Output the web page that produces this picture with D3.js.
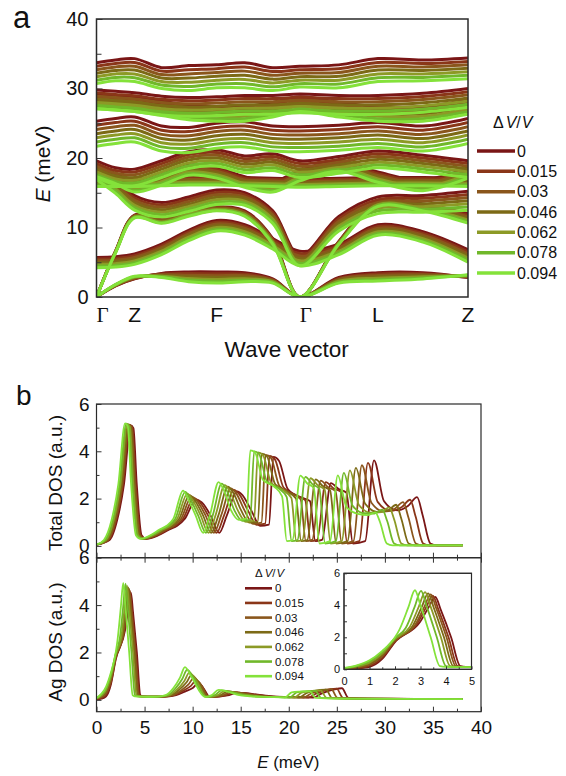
<!DOCTYPE html>
<html>
<head>
<meta charset="utf-8">
<script src="https://cdn.jsdelivr.net/npm/d3@7/dist/d3.min.js"></script>
<style>
  body { margin: 0; background: #fff; }
  text { font-family: "Liberation Sans", Arial, sans-serif; fill: #111; }
</style>
</head>
<body>
<svg id="fig" width="566" height="776"></svg>
<script>
// ---------- strain series ----------
const strainLabels = ["0", "0.015", "0.03", "0.046", "0.062", "0.078", "0.094"];
const strainColors = ["#7a1616", "#8a3618", "#8a561c", "#7c6a16", "#8c9a26", "#70b82a", "#84e23a"];

// ---------- (a) phonon dispersion ----------
// k-path coordinate of each sampled wave vector (arbitrary reciprocal units)
const kPath = [0, 0.19, 0.38, 0.65, 0.92, 1.20, 1.48, 1.76, 2.03, 2.42, 2.81, 3.26, 3.71];
const kSymbols = ["Γ", "Z", "F", "Γ", "L", "Z"];
const kSymbolPos = [0, 0.38, 1.20, 2.03, 2.81, 3.71];
const energyTicks = [0, 10, 20, 30, 40];
const energyMinorTicks = [5, 15, 25, 35];

// each band: one row of energies (meV) per strain value, sampled on kPath
const band1 = [
  [33.7,34.1,34.3,33.0,33.3,33.4,33.7,33.0,33.2,33.4,34.3,34.1,34.4],
  [33.2,33.6,33.75,32.5,32.7,32.85,33.1,32.45,32.7,32.85,33.75,33.6,33.9],
  [32.7,33.1,33.2,32.0,32.1,32.3,32.5,31.9,32.2,32.3,33.2,33.1,33.4],
  [32.2,32.6,32.65,31.5,31.5,31.75,31.9,31.35,31.7,31.75,32.65,32.6,32.9],
  [31.7,32.1,32.1,31.0,30.9,31.2,31.3,30.8,31.2,31.2,32.1,32.1,32.4],
  [31.2,31.6,31.55,30.5,30.3,30.65,30.7,30.25,30.7,30.65,31.55,31.6,31.9],
  [30.7,31.1,31.0,30.0,29.7,30.1,30.1,29.7,30.2,30.1,31.0,31.1,31.4]
];
const band2 = [
  [29.8,29.6,29.4,28.9,28.7,28.8,29.0,29.0,29.2,29.0,29.0,29.3,30.0],
  [29.35,29.15,28.95,28.45,28.25,28.35,28.55,28.55,28.75,28.55,28.55,28.85,29.55],
  [28.9,28.7,28.5,28.0,27.8,27.9,28.1,28.1,28.3,28.1,28.1,28.4,29.1],
  [28.45,28.25,28.05,27.55,27.35,27.45,27.65,27.65,27.85,27.65,27.65,27.95,28.65],
  [28.0,27.8,27.6,27.1,26.9,27.0,27.2,27.2,27.4,27.2,27.2,27.5,28.2],
  [27.55,27.35,27.15,26.65,26.45,26.55,26.75,26.75,26.95,26.75,26.75,27.05,27.75],
  [27.1,26.9,26.7,26.2,26.0,26.1,26.3,26.3,26.5,26.3,26.3,26.6,27.3]
];
const band3 = [
  [29.2,29.0,28.8,28.2,27.6,27.4,27.4,28.0,28.8,28.0,27.4,27.4,28.4],
  [28.85,28.65,28.45,27.85,27.25,27.05,27.05,27.65,28.45,27.65,27.05,27.05,28.05],
  [28.5,28.3,28.1,27.5,26.9,26.7,26.7,27.3,28.1,27.3,26.7,26.7,27.7],
  [28.15,27.95,27.75,27.15,26.55,26.35,26.35,26.95,27.75,26.95,26.35,26.35,27.35],
  [27.8,27.6,27.4,26.8,26.2,26.0,26.0,26.6,27.4,26.6,26.0,26.0,27.0],
  [27.45,27.25,27.05,26.45,25.85,25.65,25.65,26.25,27.05,26.25,25.65,25.65,26.65],
  [27.1,26.9,26.7,26.1,25.5,25.3,25.3,25.9,26.7,25.9,25.3,25.3,26.3]
];
const band4 = [
  [25.3,25.7,25.9,24.6,24.4,25.0,25.2,24.6,24.5,24.7,25.1,24.6,25.7],
  [24.7,25.1,25.3,24.0,23.8,24.4,24.6,24.0,23.9,24.1,24.5,24.0,25.1],
  [24.1,24.5,24.7,23.4,23.2,23.8,24.0,23.4,23.3,23.5,23.9,23.4,24.5],
  [23.5,23.9,24.1,22.8,22.6,23.2,23.4,22.8,22.7,22.9,23.3,22.8,23.9],
  [22.9,23.3,23.5,22.2,22.0,22.6,22.8,22.2,22.1,22.3,22.7,22.2,23.3],
  [22.3,22.7,22.9,21.6,21.4,22.0,22.2,21.6,21.5,21.7,22.1,21.6,22.7],
  [21.7,22.1,22.3,21.0,20.8,21.4,21.6,21.0,20.9,21.1,21.5,21.0,22.1]
];
const band5 = [
  [19.6,18.6,18.4,19.6,20.9,21.2,20.3,20.6,19.6,20.2,21.0,20.4,19.6],
  [19.2,18.2,18.0,19.2,20.5,20.8,19.9,20.2,19.2,19.8,20.6,20.0,19.2],
  [18.8,17.8,17.6,18.8,20.1,20.4,19.5,19.8,18.8,19.4,20.2,19.6,18.8],
  [18.4,17.4,17.2,18.4,19.7,20.0,19.1,19.4,18.4,19.0,19.8,19.2,18.4],
  [18.0,17.0,16.8,18.0,19.3,19.6,18.7,19.0,18.0,18.6,19.4,18.8,18.0],
  [17.6,16.6,16.4,17.6,18.9,19.2,18.3,18.6,17.6,18.2,19.0,18.4,17.6],
  [17.2,16.2,16.0,17.2,18.5,18.8,17.9,18.2,17.2,17.8,18.6,18.0,17.2]
];
const band6 = [
  [17.1,17.1,17.1,17.2,17.3,17.3,17.2,17.1,17.0,17.1,17.2,17.2,17.1],
  [16.9,16.9,16.9,17.0,17.1,17.1,17.0,16.9,16.8,16.9,17.0,17.0,16.9],
  [16.7,16.7,16.7,16.8,16.9,16.9,16.8,16.7,16.6,16.7,16.8,16.8,16.7],
  [16.5,16.5,16.5,16.6,16.7,16.7,16.6,16.5,16.4,16.5,16.6,16.6,16.5],
  [16.3,16.3,16.3,16.4,16.5,16.5,16.4,16.3,16.2,16.3,16.4,16.4,16.3],
  [16.1,16.1,16.1,16.2,16.3,16.3,16.2,16.1,16.0,16.1,16.2,16.2,16.1],
  [15.9,15.9,15.9,16.0,16.1,16.1,16.0,15.9,15.8,15.9,16.0,16.0,15.9]
];
const band7 = [
  [18.8,17.8,16.6,17.6,19.0,18.6,17.3,16.6,18.2,19.6,18.0,16.8,18.6],
  [18.55,17.55,16.35,17.35,18.75,18.35,17.05,16.35,17.95,19.35,17.75,16.55,18.35],
  [18.3,17.3,16.1,17.1,18.5,18.1,16.8,16.1,17.7,19.1,17.5,16.3,18.1],
  [18.05,17.05,15.85,16.85,18.25,17.85,16.55,15.85,17.45,18.85,17.25,16.05,17.85],
  [17.8,16.8,15.6,16.6,18.0,17.6,16.3,15.6,17.2,18.6,17.0,15.8,17.6],
  [17.55,16.55,15.35,16.35,17.75,17.35,16.05,15.35,16.95,18.35,16.75,15.55,17.35],
  [17.3,16.3,15.1,16.1,17.5,17.1,15.8,15.1,16.7,18.1,16.5,15.3,17.1]
];
const band8 = [
  [19.0,17.0,14.6,13.6,14.4,15.4,15.0,12.4,6.0,11.6,14.4,14.6,15.2],
  [18.65,16.65,14.25,13.25,14.05,15.05,14.7,12.1,5.75,11.25,14.0,14.2,14.75],
  [18.3,16.3,13.9,12.9,13.7,14.7,14.4,11.8,5.5,10.9,13.6,13.8,14.3],
  [17.95,15.95,13.55,12.55,13.35,14.35,14.1,11.5,5.25,10.55,13.2,13.4,13.85],
  [17.6,15.6,13.2,12.2,13.0,14.0,13.8,11.2,5.0,10.2,12.8,13.0,13.4],
  [17.25,15.25,12.85,11.85,12.65,13.65,13.5,10.9,4.75,9.85,12.4,12.6,12.95],
  [16.9,14.9,12.5,11.5,12.3,13.3,13.2,10.6,4.5,9.5,12.0,12.2,12.5]
];
const band9 = [
  [0,6.6,11.8,11.2,12.4,13.0,12.4,8.4,0,8.0,13.8,13.4,12.0],
  [0,6.56,11.73,11.1,12.27,12.9,12.27,8.27,0,7.93,13.67,13.23,11.77],
  [0,6.52,11.66,11.0,12.14,12.8,12.14,8.14,0,7.86,13.54,13.06,11.54],
  [0,6.48,11.59,10.9,12.01,12.7,12.01,8.01,0,7.79,13.41,12.89,11.31],
  [0,6.44,11.52,10.8,11.88,12.6,11.88,7.88,0,7.72,13.28,12.72,11.08],
  [0,6.4,11.45,10.7,11.75,12.5,11.75,7.75,0,7.65,13.15,12.55,10.85],
  [0,6.36,11.38,10.6,11.62,12.4,11.62,7.62,0,7.58,13.02,12.38,10.62]
];
const band10 = [
  [5.7,5.8,6.2,7.6,9.6,11.0,10.4,8.4,6.6,7.6,10.4,9.4,6.8],
  [5.45,5.55,5.95,7.35,9.35,10.75,10.15,8.15,6.25,7.35,10.15,9.15,6.5],
  [5.2,5.3,5.7,7.1,9.1,10.5,9.9,7.9,5.9,7.1,9.9,8.9,6.2],
  [4.95,5.05,5.45,6.85,8.85,10.25,9.65,7.65,5.55,6.85,9.65,8.65,5.9],
  [4.7,4.8,5.2,6.6,8.6,10.0,9.4,7.4,5.2,6.6,9.4,8.4,5.6],
  [4.45,4.55,4.95,6.35,8.35,9.75,9.15,7.15,4.85,6.35,9.15,8.15,5.3],
  [4.2,4.3,4.7,6.1,8.1,9.5,8.9,6.9,4.5,6.1,8.9,7.9,5.0]
];
const band11 = [
  [0,1.6,2.6,3.4,3.6,3.6,3.5,2.6,0,2.8,3.5,3.5,2.8],
  [0,1.63,2.67,3.3,3.37,3.33,3.28,2.5,0,2.67,3.3,3.35,2.87],
  [0,1.67,2.73,3.2,3.13,3.07,3.07,2.4,0,2.53,3.1,3.2,2.93],
  [0,1.7,2.8,3.1,2.9,2.8,2.85,2.3,0,2.4,2.9,3.05,3.0],
  [0,1.73,2.87,3.0,2.67,2.53,2.63,2.2,0,2.27,2.7,2.9,3.07],
  [0,1.77,2.93,2.9,2.43,2.27,2.42,2.1,0,2.13,2.5,2.75,3.13],
  [0,1.8,3.0,2.8,2.2,2.0,2.2,2.0,0,2.0,2.3,2.6,3.2]
];
const bands = [band1, band2, band3, band4, band5, band6, band7, band8, band9, band10, band11];

// ---------- (b) densities of states: [E (meV), DOS (a.u.)] per strain ----------
const dosTicks = [0, 2, 4, 6];
const dosMinorTicks = [1, 3, 5];
const eTicksB = [0, 5, 10, 15, 20, 25, 30, 35, 40];
const eMinorTicksB = [2.5, 7.5, 12.5, 17.5, 22.5, 27.5, 32.5, 37.5];
const insetETicks = [0, 1, 2, 3, 4, 5];
const insetEMinor = [0.5, 1.5, 2.5, 3.5, 4.5];

const totalDOS = [
  [[0,0.05],[1.36,0.25],[2.16,1.1],[2.86,2.6],[3.56,5.1],[3.84,4.98],[4.19,2.6],[4.69,0.45],[5.16,0.3],
   [6.44,0.45],[7.59,0.7],[8.4,0.85],[9.2,1.15],[10.35,1.95],[10.93,1.85],[11.85,1.3],[12.77,0.55],[13.57,1.3],
   [14.61,2.3],[15.18,2.15],[16.1,1.5],[17.02,0.85],[17.94,0.9],[18.4,3.76],[18.98,3.6],[19.9,2.4],[21.28,2.05],
   [22.2,1.9],[22.77,0.2],[23.46,0.25],[24.38,2.65],[25.19,2.4],[25.99,2.25],[26.68,0.1],[27.95,0.2],[28.87,3.62],
   [29.9,1.9],[31.28,1.5],[32.43,1.7],[33.35,2.06],[33.93,1.3],[34.73,0.1],[35.42,0.02],[38.1,0.02]],
  [[0,0.05],[1.26,0.25],[2.06,1.1],[2.76,2.6],[3.46,5.12],[3.74,4.99],[4.09,2.6],[4.59,0.45],[5.06,0.3],
   [6.3,0.45],[7.43,0.7],[8.21,0.85],[9.0,1.15],[10.13,2.02],[10.69,1.88],[11.59,1.3],[12.49,0.55],[13.28,1.3],
   [14.29,2.37],[14.85,2.19],[15.75,1.5],[16.65,0.89],[17.55,0.94],[18.0,3.81],[18.56,3.66],[19.46,2.47],[20.81,2.13],
   [21.71,1.93],[22.28,0.2],[22.95,0.25],[23.85,2.7],[24.64,2.44],[25.43,2.28],[26.1,0.1],[27.34,0.2],[28.24,3.51],
   [29.25,1.86],[30.6,1.48],[31.73,1.63],[32.63,1.95],[33.19,1.25],[33.98,0.1],[34.65,0.02],[38.1,0.02]],
  [[0,0.05],[1.18,0.25],[1.98,1.1],[2.68,2.6],[3.38,5.13],[3.66,5.0],[4.01,2.6],[4.51,0.45],[4.98,0.3],
   [6.16,0.45],[7.26,0.7],[8.03,0.85],[8.8,1.15],[9.9,2.08],[10.45,1.9],[11.33,1.3],[12.21,0.55],[12.98,1.3],
   [13.97,2.43],[14.52,2.23],[15.4,1.5],[16.28,0.93],[17.16,0.98],[17.6,3.85],[18.15,3.72],[19.03,2.53],[20.35,2.2],
   [21.23,1.97],[21.78,0.2],[22.44,0.25],[23.32,2.76],[24.09,2.48],[24.86,2.32],[25.52,0.1],[26.73,0.2],[27.61,3.41],
   [28.6,1.82],[29.92,1.45],[31.02,1.57],[31.9,1.85],[32.45,1.2],[33.22,0.1],[33.88,0.02],[38.1,0.02]],
  [[0,0.05],[1.1,0.25],[1.9,1.1],[2.6,2.6],[3.3,5.14],[3.58,5.01],[3.93,2.6],[4.43,0.45],[4.9,0.3],
   [6.02,0.45],[7.1,0.7],[7.85,0.85],[8.6,1.15],[9.68,2.15],[10.21,1.93],[11.07,1.3],[11.93,0.55],[12.69,1.3],
   [13.65,2.5],[14.19,2.28],[15.05,1.5],[15.91,0.98],[16.77,1.03],[17.2,3.9],[17.74,3.78],[18.6,2.6],[19.89,2.28],
   [20.75,2.0],[21.29,0.2],[21.93,0.25],[22.79,2.81],[23.54,2.53],[24.3,2.35],[24.94,0.1],[26.12,0.2],[26.98,3.3],
   [27.95,1.78],[29.24,1.43],[30.32,1.5],[31.18,1.74],[31.71,1.15],[32.47,0.1],[33.11,0.02],[38.1,0.02]],
  [[0,0.05],[1.0,0.25],[1.8,1.1],[2.5,2.6],[3.2,5.15],[3.48,5.02],[3.83,2.6],[4.33,0.45],[4.8,0.3],
   [5.88,0.45],[6.93,0.7],[7.67,0.85],[8.4,1.15],[9.45,2.21],[9.98,1.95],[10.82,1.3],[11.66,0.55],[12.39,1.3],
   [13.34,2.57],[13.86,2.32],[14.7,1.5],[15.54,1.02],[16.38,1.07],[16.8,3.95],[17.33,3.83],[18.17,2.67],[19.43,2.35],
   [20.27,2.03],[20.79,0.2],[21.42,0.25],[22.26,2.86],[23.0,2.57],[23.73,2.38],[24.36,0.1],[25.52,0.2],[26.36,3.19],
   [27.3,1.73],[28.56,1.4],[29.61,1.43],[30.45,1.63],[30.98,1.1],[31.71,0.1],[32.34,0.02],[38.1,0.02]],
  [[0,0.05],[0.9,0.25],[1.7,1.1],[2.4,2.6],[3.1,5.17],[3.38,5.03],[3.73,2.6],[4.23,0.45],[4.7,0.3],
   [5.74,0.45],[6.77,0.7],[7.48,0.85],[8.2,1.15],[9.23,2.28],[9.74,1.98],[10.56,1.3],[11.38,0.55],[12.1,1.3],
   [13.02,2.63],[13.53,2.36],[14.35,1.5],[15.17,1.06],[15.99,1.11],[16.4,4.0],[16.91,3.89],[17.73,2.73],[18.96,2.43],
   [19.78,2.07],[20.3,0.2],[20.91,0.25],[21.73,2.92],[22.45,2.61],[23.17,2.42],[23.78,0.1],[24.91,0.2],[25.73,3.09],
   [26.65,1.69],[27.88,1.38],[28.91,1.37],[29.73,1.53],[30.24,1.05],[30.96,0.1],[31.57,0.02],[38.1,0.02]],
  [[0,0.05],[0.77,0.25],[1.57,1.1],[2.27,2.6],[2.97,5.18],[3.25,5.05],[3.6,2.6],[4.1,0.45],[4.57,0.3],
   [5.6,0.45],[6.6,0.7],[7.3,0.85],[8.0,1.15],[9.0,2.34],[9.5,2.0],[10.3,1.3],[11.1,0.55],[11.8,1.3],
   [12.7,2.7],[13.2,2.4],[14.0,1.5],[14.8,1.1],[15.6,1.15],[16.0,4.04],[16.5,3.95],[17.3,2.8],[18.5,2.5],
   [19.3,2.1],[19.8,0.2],[20.4,0.25],[21.2,2.97],[21.9,2.65],[22.6,2.45],[23.2,0.1],[24.3,0.2],[25.1,2.98],
   [26.0,1.65],[27.2,1.35],[28.2,1.3],[29.0,1.42],[29.5,1.0],[30.2,0.1],[30.8,0.02],[38.1,0.02]]
];

const agDOS = [
  [[0,0.02],[0.5,0.05],[1.0,0.15],[1.5,0.65],[2.0,1.7],[2.98,2.95],[3.33,3.9],[3.58,4.52],[3.8,3.7],[4.2,2.0],[4.56,0.2],[4.78,0.15],
   [5.98,0.13],[7.25,0.14],[8.28,0.2],[9.2,0.35],[10.01,0.5],[10.58,0.7],[11.1,0.5],[11.8,0.12],[13.8,0.2],[14.61,0.3],
   [15.53,0.28],[16.79,0.22],[18.4,0.15],[20.7,0.12],[22.54,0.1],[23.35,0.25],[24.15,0.38],[25.53,0.49],[26.22,0.08],[28.75,0.05],[38.1,0.03]],
  [[0,0.03],[0.5,0.08],[1.0,0.22],[1.5,0.73],[2.0,1.75],[2.88,2.88],[3.23,3.9],[3.48,4.6],[3.7,3.75],[4.1,2.0],[4.46,0.2],[4.68,0.15],
   [5.85,0.13],[7.09,0.14],[8.1,0.2],[9.0,0.38],[9.79,0.58],[10.35,0.81],[10.95,0.6],[11.72,0.12],[13.5,0.2],[14.29,0.32],
   [15.19,0.29],[16.43,0.22],[18.0,0.15],[20.25,0.12],[22.05,0.1],[22.84,0.26],[23.63,0.38],[24.98,0.47],[25.65,0.08],[28.13,0.05],[38.1,0.03]],
  [[0,0.04],[0.5,0.12],[1.0,0.29],[1.5,0.82],[2.0,1.8],[2.8,2.8],[3.15,3.9],[3.4,4.68],[3.62,3.8],[4.02,2.0],[4.38,0.2],[4.6,0.15],
   [5.72,0.13],[6.93,0.14],[7.92,0.2],[8.8,0.4],[9.57,0.65],[10.12,0.92],[10.8,0.68],[11.63,0.12],[13.2,0.2],[13.97,0.34],
   [14.85,0.3],[16.06,0.22],[17.6,0.15],[19.8,0.12],[21.56,0.1],[22.33,0.27],[23.1,0.37],[24.42,0.45],[25.08,0.08],[27.5,0.05],[38.1,0.03]],
  [[0,0.05],[0.5,0.15],[1.0,0.36],[1.5,0.9],[2.0,1.85],[2.7,2.73],[3.05,3.9],[3.3,4.75],[3.52,3.85],[3.92,2.0],[4.28,0.2],[4.5,0.15],
   [5.59,0.13],[6.77,0.14],[7.74,0.2],[8.6,0.43],[9.35,0.73],[9.89,1.04],[10.6,0.75],[11.55,0.12],[12.9,0.2],[13.65,0.36],
   [14.51,0.32],[15.7,0.22],[17.2,0.15],[19.35,0.12],[21.07,0.1],[21.82,0.28],[22.58,0.37],[23.87,0.43],[24.51,0.08],[26.88,0.05],[38.1,0.03]],
  [[0,0.06],[0.5,0.18],[1.0,0.42],[1.5,0.98],[2.0,1.9],[2.58,2.65],[2.93,3.9],[3.18,4.82],[3.4,3.9],[3.8,2.0],[4.16,0.2],[4.38,0.15],
   [5.46,0.13],[6.62,0.14],[7.56,0.2],[8.4,0.45],[9.14,0.8],[9.66,1.15],[10.4,0.8],[11.47,0.12],[12.6,0.2],[13.34,0.38],
   [14.18,0.33],[15.33,0.22],[16.8,0.15],[18.9,0.12],[20.58,0.1],[21.32,0.3],[22.05,0.36],[23.31,0.4],[23.94,0.08],[26.25,0.05],[38.1,0.03]],
  [[0,0.07],[0.5,0.22],[1.0,0.49],[1.5,1.07],[2.0,1.95],[2.42,2.58],[2.77,3.9],[3.02,4.9],[3.24,3.95],[3.64,2.0],[4.0,0.2],[4.22,0.15],
   [5.33,0.13],[6.46,0.14],[7.38,0.2],[8.2,0.48],[8.92,0.88],[9.43,1.27],[10.15,0.88],[11.38,0.12],[12.3,0.2],[13.02,0.4],
   [13.84,0.35],[14.97,0.22],[16.4,0.15],[18.45,0.12],[20.09,0.1],[20.81,0.31],[21.53,0.36],[22.76,0.38],[23.37,0.08],[25.63,0.05],[38.1,0.03]],
  [[0,0.08],[0.5,0.25],[1.0,0.56],[1.5,1.15],[2.0,2.0],[2.18,2.5],[2.53,3.9],[2.78,4.94],[3.0,4.0],[3.4,2.0],[3.76,0.2],[3.98,0.15],
   [5.2,0.13],[6.3,0.14],[7.2,0.2],[8.0,0.5],[8.7,0.95],[9.2,1.38],[9.9,0.95],[11.3,0.12],[12.0,0.2],[12.7,0.42],
   [13.5,0.36],[14.6,0.22],[16.0,0.15],[18.0,0.12],[19.6,0.1],[20.3,0.32],[21.0,0.35],[22.2,0.36],[22.8,0.08],[25.0,0.05],[38.1,0.03]]
];

// ---------- drawing ----------
const FONT = '"Liberation Sans", Arial, sans-serif';
const intFmt = d3.format("d");
const svg = d3.select("#fig");
const defs = svg.append("defs");

function clip(id, x0, y0, x1, y1) {
  defs.append("clipPath").attr("id", id).append("rect")
    .attr("x", x0).attr("y", y0).attr("width", x1 - x0).attr("height", y1 - y0);
}
function styleAxis(g, size) {
  g.attr("font-family", null).attr("font-size", null);
  g.select(".domain").remove();
  g.selectAll(".tick line").attr("stroke", "#333").attr("stroke-width", 1);
  g.selectAll(".tick text").attr("font-family", FONT).attr("font-size", size).attr("fill", "#111");
  return g;
}
function box(x0, y0, x1, y1, w, fill) {
  svg.append("rect").attr("x", x0).attr("y", y0).attr("width", x1 - x0).attr("height", y1 - y0)
    .attr("fill", fill || "none").attr("stroke", "#2a2a2a").attr("stroke-width", w);
}

// ===== panel (a) =====
const A = { left: 96.5, right: 468, top: 19, bottom: 297 };
const xA = d3.scaleLinear().domain([0, kPath[kPath.length - 1]]).range([A.left, A.right]);
const yA = d3.scaleLinear().domain([0, 40]).range([A.bottom, A.top]);
clip("clipA", A.left, A.top, A.right, A.bottom);

const bandLine = d3.line()
  .x((d, i) => xA(kPath[i]))
  .y(d => yA(d))
  .curve(d3.curveCatmullRom.alpha(0.5));

const gBands = svg.append("g").attr("clip-path", "url(#clipA)");
strainLabels.forEach((lab, s) => {
  const gs = gBands.append("g").attr("stroke", strainColors[s]);
  bands.forEach(b => {
    gs.append("path").attr("d", bandLine(b[s]))
      .attr("fill", "none").attr("stroke-width", 3).attr("stroke-linejoin", "round");
  });
});
box(A.left, A.top, A.right, A.bottom, 1.5);

styleAxis(svg.append("g").attr("transform", `translate(${A.left},0)`)
  .call(d3.axisLeft(yA).tickValues(energyTicks).tickSize(-6).tickPadding(8).tickFormat(intFmt)), 20);
styleAxis(svg.append("g").attr("transform", `translate(${A.left},0)`)
  .call(d3.axisLeft(yA).tickValues(energyMinorTicks).tickSize(-5).tickFormat("")), 20);

// high-symmetry point labels
svg.append("g").selectAll("text").data(kSymbols).join("text")
  .attr("x", (d, i) => xA(kSymbolPos[i]))
  .attr("y", 322)
  .attr("text-anchor", d => d === "Γ" ? "start" : "middle")
  .attr("font-size", 21)
  .style("font-family", d => d === "Γ" ? '"Liberation Serif", "Times New Roman", serif' : FONT)
  .text(d => d);

svg.append("text").attr("x", 286.7).attr("y", 357).attr("text-anchor", "middle")
  .attr("font-size", 22.5).text("Wave vector");
{
  const t = svg.append("text").attr("transform", "translate(50,164) rotate(-90)")
    .attr("text-anchor", "middle").attr("font-size", 21);
  t.append("tspan").attr("font-style", "italic").text("E");
  t.append("tspan").text(" (meV)");
}
svg.append("text").attr("x", 13).attr("y", 28).attr("font-size", 31).text("a");

// legend (a)
{
  const t = svg.append("text").attr("x", 493).attr("y", 128).attr("font-size", 16);
  t.append("tspan").text("Δ");
  t.append("tspan").attr("font-style", "italic").attr("dx", 2).text("V");
  t.append("tspan").text("/");
  t.append("tspan").attr("font-style", "italic").attr("dx", 1).text("V");
  const lg = svg.append("g").selectAll("g").data(strainLabels).join("g")
    .attr("transform", (d, i) => `translate(0,${151 + i * 20.33})`);
  lg.append("line").attr("x1", 477).attr("x2", 515)
    .attr("stroke", (d, i) => strainColors[i]).attr("stroke-width", 3.5);
  lg.append("text").attr("x", 517).attr("dy", "0.36em").attr("font-size", 16).text(d => d);
}

// ===== panel (b) =====
const B = { left: 96.5, right: 481, top: 404, mid: 557.7, bottom: 711.7 };
const xB = d3.scaleLinear().domain([0, 40]).range([B.left, B.right]);
const yTot = d3.scaleLinear().domain([-0.5, 6]).range([B.mid, B.top]);
const yAg = d3.scaleLinear().domain([-0.5, 6]).range([B.bottom, B.mid]);
clip("clipTot", B.left, B.top, B.right, B.mid);
clip("clipAg", B.left, B.mid, B.right, B.bottom);

function drawDOS(series, x, y, clipId) {
  const line = d3.line().x(d => x(d[0])).y(d => y(d[1])).curve(d3.curveMonotoneX);
  svg.append("g").attr("clip-path", `url(#${clipId})`)
    .selectAll("path").data(series).join("path")
    .attr("d", line).attr("fill", "none")
    .attr("stroke", (d, i) => strainColors[i]).attr("stroke-width", 1.8)
    .attr("stroke-linejoin", "round");
}
drawDOS(totalDOS, xB, yTot, "clipTot");
drawDOS(agDOS, xB, yAg, "clipAg");

box(B.left, B.top, B.right, B.mid, 1.2);
box(B.left, B.mid, B.right, B.bottom, 1.2);

// energy axis: labelled bottom, shared ticks on the middle line
styleAxis(svg.append("g").attr("transform", `translate(0,${B.bottom})`)
  .call(d3.axisBottom(xB).tickValues(eTicksB).tickSize(-5).tickPadding(8.5).tickFormat(intFmt)), 19);
styleAxis(svg.append("g").attr("transform", `translate(0,${B.bottom})`)
  .call(d3.axisBottom(xB).tickValues(eMinorTicksB).tickSize(-3).tickFormat("")), 19);
[[eTicksB, 5], [eMinorTicksB, 3]].forEach(([vals, len]) => {
  styleAxis(svg.append("g").attr("transform", `translate(0,${B.mid})`)
    .call(d3.axisTop(xB).tickValues(vals).tickSize(len).tickFormat("")), 19);
  styleAxis(svg.append("g").attr("transform", `translate(0,${B.mid})`)
    .call(d3.axisBottom(xB).tickValues(vals).tickSize(len).tickFormat("")), 19);
});
[yTot, yAg].forEach(ys => {
  styleAxis(svg.append("g").attr("transform", `translate(${B.left},0)`)
    .call(d3.axisLeft(ys).tickValues(dosTicks).tickSize(-5).tickPadding(7).tickFormat(intFmt)), 19);
  styleAxis(svg.append("g").attr("transform", `translate(${B.left},0)`)
    .call(d3.axisLeft(ys).tickValues(dosMinorTicks).tickSize(-3).tickFormat("")), 19);
});

svg.append("text").attr("transform", "translate(61.5,483) rotate(-90)")
  .attr("text-anchor", "middle").attr("font-size", 19).text("Total DOS (a.u.)");
svg.append("text").attr("transform", "translate(61.5,642) rotate(-90)")
  .attr("text-anchor", "middle").attr("font-size", 19).text("Ag DOS (a.u.)");
{
  const t = svg.append("text").attr("x", 288.3).attr("y", 768).attr("text-anchor", "middle").attr("font-size", 17);
  t.append("tspan").attr("font-style", "italic").text("E");
  t.append("tspan").text(" (meV)");
}
svg.append("text").attr("x", 16).attr("y", 405).attr("font-size", 28).text("b");

// legend (b)
{
  const t = svg.append("text").attr("x", 255).attr("y", 577).attr("font-size", 11.5);
  t.append("tspan").text("Δ");
  t.append("tspan").attr("font-style", "italic").attr("dx", 2).text("V");
  t.append("tspan").text("/");
  t.append("tspan").attr("font-style", "italic").attr("dx", 1).text("V");
  const lg = svg.append("g").selectAll("g").data(strainLabels).join("g")
    .attr("transform", (d, i) => `translate(0,${588.3 + i * 14.65})`);
  lg.append("line").attr("x1", 245).attr("x2", 272)
    .attr("stroke", (d, i) => strainColors[i]).attr("stroke-width", 2.6);
  lg.append("text").attr("x", 275).attr("dy", "0.36em").attr("font-size", 11.5).text(d => d);
}

// inset: low-energy Ag DOS
const I = { left: 344, right: 471.5, top: 573.3, bottom: 669.3 };
const xI = d3.scaleLinear().domain([0, 5]).range([I.left, I.right]);
const yI = d3.scaleLinear().domain([0, 6]).range([I.bottom, I.top]);
clip("clipIn", I.left, I.top, I.right, I.bottom);
box(I.left, I.top, I.right, I.bottom, 1.1, "#fff");
drawDOS(agDOS, xI, yI, "clipIn");
box(I.left, I.top, I.right, I.bottom, 1.1);
styleAxis(svg.append("g").attr("transform", `translate(0,${I.bottom})`)
  .call(d3.axisBottom(xI).tickValues(insetETicks).tickSize(-3).tickPadding(7.5).tickFormat(intFmt)), 11);
styleAxis(svg.append("g").attr("transform", `translate(0,${I.bottom})`)
  .call(d3.axisBottom(xI).tickValues(insetEMinor).tickSize(-2).tickFormat("")), 11);
styleAxis(svg.append("g").attr("transform", `translate(${I.left},0)`)
  .call(d3.axisLeft(yI).tickValues(dosTicks).tickSize(-3).tickPadding(4).tickFormat(intFmt)), 11);
styleAxis(svg.append("g").attr("transform", `translate(${I.left},0)`)
  .call(d3.axisLeft(yI).tickValues(dosMinorTicks).tickSize(-3).tickFormat("")), 11);
</script>
</body>
</html>
